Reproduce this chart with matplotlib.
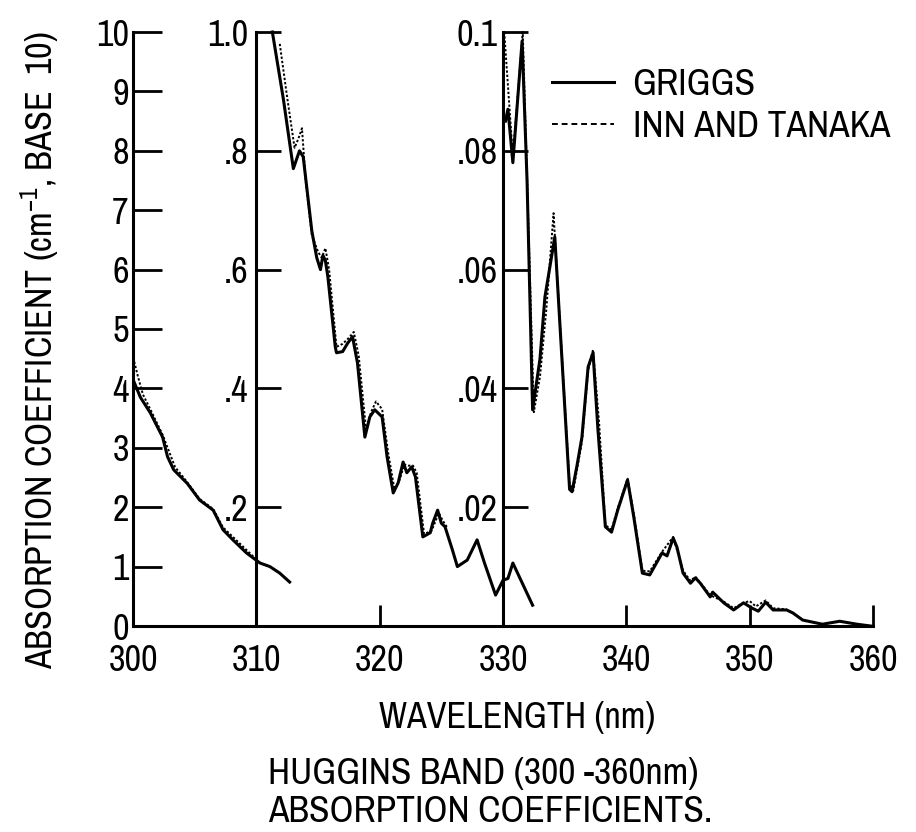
import matplotlib
matplotlib.use("Agg")
import matplotlib.pyplot as plt
from matplotlib import font_manager
from matplotlib.lines import Line2D

# ---------------- data ----------------
# Griggs, 300-313 nm  (left scale, 0-10 cm^-1)
griggs_1_x = [300.1, 300.6, 301.4, 302.4, 302.8, 303.3, 304.4, 305.4, 306.5, 307.3, 308.1, 309.2, 310.3, 311.1, 311.9, 312.7]
griggs_1_y = [4.10, 3.85, 3.59, 3.18, 2.85, 2.63, 2.40, 2.12, 1.95, 1.62, 1.45, 1.23, 1.06, 1.00, 0.89, 0.74]
# Inn and Tanaka, 300-310 nm
inn_1_x = [300.1, 300.4, 300.8, 301.4, 302.4, 302.9, 303.4, 304.4, 305.4, 306.5, 307.3, 308.1, 309.2, 310.0]
inn_1_y = [4.45, 4.20, 3.90, 3.65, 3.22, 2.95, 2.68, 2.42, 2.14, 1.97, 1.66, 1.50, 1.28, 1.12]

# Griggs, 311-333 nm  (middle scale, 0-1.0)
griggs_2_x = [311.3, 312.2, 313.0, 313.5, 313.8, 314.5, 314.9, 315.2, 315.4, 315.6, 315.8, 316.4, 316.5,
              317.0, 317.4, 317.8, 318.2, 318.8, 319.2, 319.6, 320.2, 320.6, 321.1, 321.5, 321.9, 322.2,
              322.6, 322.9, 323.5, 324.1, 324.3, 324.7, 325.0, 325.3, 325.9, 326.3, 327.1, 327.9, 328.5,
              329.4, 330.0, 330.4, 330.8, 332.4]
griggs_2_y = [1.00, 0.886, 0.77, 0.80, 0.79, 0.665, 0.62, 0.60, 0.624, 0.615, 0.588, 0.47, 0.46,
              0.462, 0.476, 0.487, 0.443, 0.318, 0.352, 0.364, 0.352, 0.285, 0.224, 0.241, 0.276, 0.258,
              0.268, 0.251, 0.150, 0.157, 0.173, 0.195, 0.173, 0.167, 0.128, 0.100, 0.111, 0.145, 0.106,
              0.052, 0.077, 0.080, 0.106, 0.035]
# Inn and Tanaka, 312-326 nm
inn_2_x = [311.9, 312.5, 313.1, 313.4, 313.7, 314.0, 314.5, 315.0, 315.3, 315.6, 315.9, 316.5, 317.0,
           317.5, 317.9, 318.3, 318.9, 319.3, 319.7, 320.2, 320.7, 321.2, 321.6, 322.0, 322.3, 322.7,
           323.0, 323.6, 324.2, 324.5, 324.8, 325.1, 325.5]
inn_2_y = [0.98, 0.89, 0.805, 0.82, 0.838, 0.75, 0.658, 0.63, 0.62, 0.636, 0.60, 0.47, 0.475,
           0.485, 0.495, 0.455, 0.33, 0.36, 0.378, 0.365, 0.29, 0.23, 0.245, 0.272, 0.27, 0.27,
           0.258, 0.155, 0.16, 0.175, 0.19, 0.178, 0.165]

# Griggs, 330-360 nm  (right scale, 0-0.1)
griggs_3_x = [330.2, 330.4, 330.8, 331.55, 331.95, 332.4, 333.0, 333.4, 334.2, 334.6, 335.4, 335.6, 336.0,
              336.4, 336.9, 337.3, 337.7, 338.3, 338.8, 339.3, 340.1, 340.6, 341.3, 341.9, 342.9, 343.3,
              343.8, 344.1, 344.6, 345.2, 345.6, 346.0, 346.8, 347.0, 347.9, 348.7, 349.5, 350.2, 350.7,
              351.3, 351.9, 353.0, 353.5, 354.3, 355.9, 357.3, 358.7, 359.8]
griggs_3_y = [0.085, 0.087, 0.078, 0.0985, 0.075, 0.0364, 0.045, 0.0554, 0.0655, 0.0513, 0.023, 0.0226, 0.027,
              0.0318, 0.0436, 0.046, 0.033, 0.0167, 0.0158, 0.0195, 0.0246, 0.0184, 0.0089, 0.0086, 0.0123, 0.0118,
              0.0148, 0.0133, 0.0089, 0.0072, 0.0081, 0.0072, 0.0049, 0.0057, 0.0039, 0.0027, 0.0039, 0.0030, 0.0025,
              0.0040, 0.0027, 0.0027, 0.0022, 0.0010, 0.0003, 0.0008, 0.0003, 0.0]
# Inn and Tanaka, 330-353 nm
inn_3_x = [330.1, 330.8, 331.6, 332.0, 332.5, 333.0, 333.5, 334.1, 334.5, 335.4, 335.7, 336.4, 336.9,
           337.3, 337.8, 338.3, 338.8, 339.3, 340.1, 340.6, 341.3, 341.9, 342.9, 343.8, 344.6, 345.2,
           345.6, 346.8, 347.9, 348.7, 349.5, 350.0, 350.5, 351.3, 351.9, 353.0]
inn_3_y = [0.100, 0.079, 0.100, 0.072, 0.036, 0.042, 0.053, 0.0695, 0.055, 0.024, 0.0228, 0.031, 0.043,
           0.0465, 0.034, 0.017, 0.0162, 0.0198, 0.0248, 0.019, 0.0093, 0.0092, 0.0125, 0.015, 0.0093, 0.0076,
           0.0083, 0.0052, 0.0041, 0.0030, 0.0039, 0.0042, 0.0033, 0.0043, 0.0030, 0.0028]

x_ticks = [300, 310, 320, 330, 340, 350, 360]
x_tick_labels = ["300", "310", "320", "330", "340", "350", "360"]
y1_ticks = [0, 1, 2, 3, 4, 5, 6, 7, 8, 9, 10]
y1_tick_labels = ["0", "1", "2", "3", "4", "5", "6", "7", "8", "9", "10"]
y2_ticks = [0.2, 0.4, 0.6, 0.8, 1.0]
y2_tick_labels = [".2", ".4", ".6", ".8", "1.0"]
y3_ticks = [0.02, 0.04, 0.06, 0.08, 0.1]
y3_tick_labels = [".02", ".04", ".06", ".08", "0.1"]
scale2 = 10.0    # middle panel scale factor onto the left axis
scale3 = 100.0   # right panel scale factor onto the left axis

# ---------------- fonts ----------------
names = {f.name for f in font_manager.fontManager.ttflist}
FONT, FS = "Liberation Sans", 22
for cand, size in (("Archivo Narrow", 26), ("Roboto Condensed", 26), ("Liberation Sans Narrow", 26),
                   ("Barlow Condensed", 28), ("Asap Condensed", 26)):
    if cand in names:
        FONT, FS = cand, size
        break
plt.rcParams["font.family"] = [FONT, "DejaVu Sans"]
plt.rcParams["mathtext.fontset"] = "custom"
plt.rcParams["mathtext.rm"] = FONT
plt.rcParams["mathtext.it"] = FONT
plt.rcParams["mathtext.bf"] = FONT
plt.rcParams["axes.unicode_minus"] = True

LW_AX = 2.2
fig = plt.figure(figsize=(9.16, 8.32), dpi=100)
ax = fig.add_axes([133 / 916, 1 - 626 / 832, 740 / 916, 594 / 832])
ax.set_xlim(300, 360)
ax.set_ylim(0, 10)

for s in ("top", "right"):
    ax.spines[s].set_visible(False)
for s in ("left", "bottom"):
    ax.spines[s].set_linewidth(LW_AX)

ax.set_xticks(x_ticks, labels=x_tick_labels)
ax.set_yticks(y1_ticks, labels=y1_tick_labels)
ax.tick_params(axis="x", direction="in", length=15, width=2, pad=13, labelsize=FS)
ax.tick_params(axis="y", direction="in", length=21, width=2, pad=3, labelsize=FS)

# middle and right sub-axes
def make_sec(loc, scale, ticks, labels, pad):
    sec = ax.secondary_yaxis(loc, functions=(lambda y, s=scale: y / s, lambda y, s=scale: y * s),
                             transform=ax.transData)
    sec.set_alignment("left")
    sec.spines["left"].set_linewidth(LW_AX)
    sec.set_yticks(ticks, labels=labels)
    sec.tick_params(axis="y", direction="in", length=18, width=2, pad=pad, labelsize=FS)
    return sec

make_sec(310, scale2, y2_ticks, y2_tick_labels, 6)
make_sec(330, scale3, y3_ticks, y3_tick_labels, 4)

# curves
solid_kw = dict(color="black", lw=2.2, solid_joinstyle="round", clip_on=False)
dot_kw = dict(color="black", lw=1.4, linestyle=(0, (1.2, 1.0)), clip_on=False)

ax.plot(inn_1_x, inn_1_y, **dot_kw)
ax.plot(griggs_1_x, griggs_1_y, **solid_kw)
ax.plot(inn_2_x, [v * scale2 for v in inn_2_y], **dot_kw)
ax.plot(griggs_2_x, [v * scale2 for v in griggs_2_y], **solid_kw)
ax.plot(inn_3_x, [v * scale3 for v in inn_3_y], **dot_kw)
ax.plot(griggs_3_x, [v * scale3 for v in griggs_3_y], **solid_kw)

# legend
handles = [Line2D([], [], color="black", lw=2.2),
           Line2D([], [], color="black", lw=1.4, linestyle=(0, (3, 2)))]
ax.legend(handles, ["GRIGGS", "INN AND TANAKA"], loc="upper left",
          bbox_to_anchor=(552 / 916, 1 - 68 / 832), bbox_transform=fig.transFigure,
          frameon=False, fontsize=FS + 1, handlelength=1.65, handletextpad=0.5,
          borderpad=0, borderaxespad=0, labelspacing=0.25)

# texts
fig.text(40 / 916, 1 - 350 / 832, r"ABSORPTION COEFFICIENT (cm$^{-1}$, BASE  10)",
         rotation=90, ha="center", va="center", fontsize=FS)
fig.text(517 / 916, 1 - 718 / 832, "WAVELENGTH (nm)", ha="center", va="center", fontsize=FS)
fig.text(268 / 916, 1 - 773 / 832, "HUGGINS BAND (300 -360nm)", ha="left", va="center", fontsize=FS + 1)
fig.text(268 / 916, 1 - 811 / 832, "ABSORPTION COEFFICIENTS.", ha="left", va="center", fontsize=FS + 1)

fig.savefig("out.png", dpi=100)
